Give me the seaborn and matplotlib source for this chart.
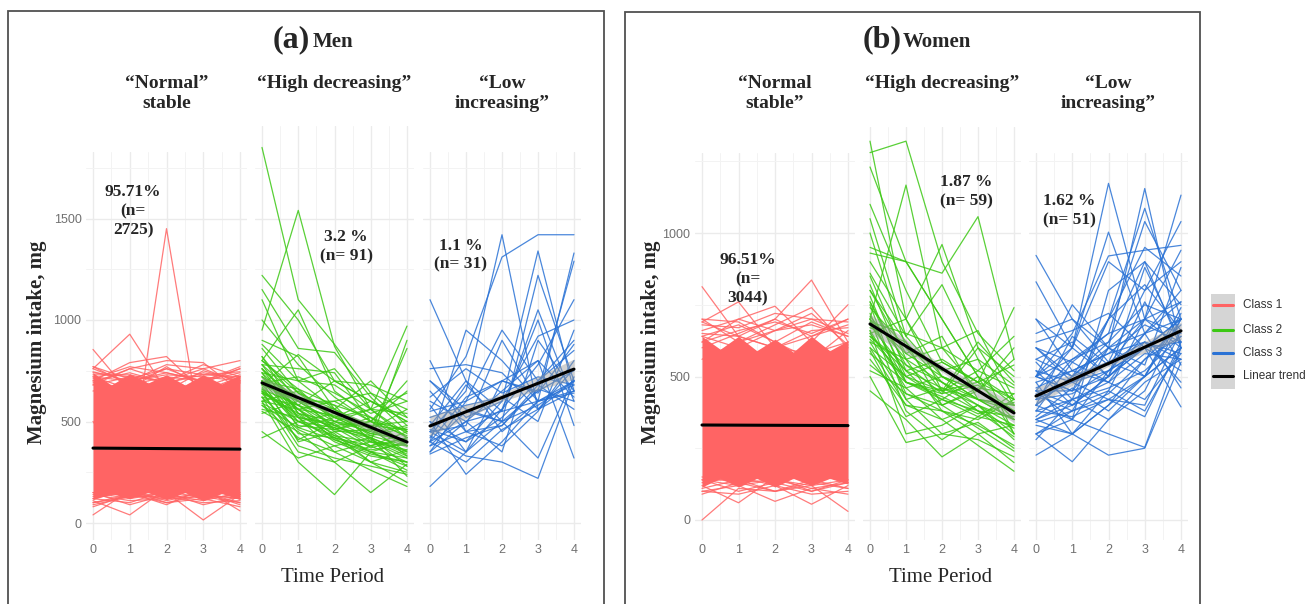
import numpy as np
import pandas as pd
import matplotlib
matplotlib.use("Agg")
import matplotlib.pyplot as plt
import seaborn as sns
from matplotlib.patches import Rectangle
from matplotlib.lines import Line2D

# ---------------- data ----------------
TIME = [0, 1, 2, 3, 4]
BAND_T = [0, 0.5, 1, 1.5, 2, 2.5, 3, 3.5, 4]
CLASS_TITLES_MEN = ["\u201cNormal\u201d\nstable", "\u201cHigh decreasing\u201d", "\u201cLow\nincreasing\u201d"]
CLASS_TITLES_WOMEN = ["\u201cNormal\nstable\u201d", "\u201cHigh decreasing\u201d", "\u201cLow\nincreasing\u201d"]
MEN_LABELS = ["95.71%\n(n=\n2725)", "3.2 %\n(n= 91)", "1.1 %\n(n= 31)"]
WOMEN_LABELS = ["96.51%\n(n=\n3044)", "1.87 %\n(n= 59)", "1.62 %\n(n= 51)"]
LEGEND_LABELS = ["Class 1", "Class 2", "Class 3", "Linear trend"]

# dense Class 1 band (envelope of the thousands of trajectories)
MEN_C1_UPPER = [740, 680, 735, 690, 730, 680, 730, 685, 730]
MEN_C1_LOWER = [115, 145, 120, 150, 115, 150, 110, 145, 115]
WOM_C1_UPPER = [640, 595, 640, 590, 630, 585, 640, 590, 625]
WOM_C1_LOWER = [115, 145, 115, 145, 115, 145, 120, 145, 125]

MEN_C1 = [
    [855, 640, 700, 650, 700], [760, 930, 650, 640, 690], [500, 250, 1450, 380, 500],
    [700, 790, 820, 650, 720], [680, 760, 800, 790, 650], [720, 700, 780, 760, 800],
    [740, 720, 700, 780, 720], [650, 700, 740, 700, 760], [770, 680, 720, 700, 740],
    [745, 700, 730, 720, 700], [700, 740, 690, 730, 745], [760, 690, 760, 690, 760],
    [690, 760, 700, 760, 690], [730, 730, 690, 740, 710], [710, 770, 740, 700, 770],
    [770, 710, 760, 730, 720], [720, 660, 770, 670, 730], [680, 720, 650, 750, 700],
    [40, 160, 110, 150, 90], [110, 40, 170, 140, 120], [130, 150, 90, 170, 60],
    [150, 120, 150, 15, 140], [90, 130, 130, 100, 110], [120, 100, 160, 120, 80],
    [100, 140, 120, 130, 100], [150, 90, 140, 110, 150], [120, 160, 100, 140, 120],
    [100, 130, 150, 90, 130], [140, 110, 120, 150, 100], [80, 140, 100, 120, 140],
]
MEN_C2 = [
    [1850, 1100, 880, 640, 480], [950, 1540, 870, 560, 420], [1220, 1000, 700, 600, 500],
    [800, 1050, 650, 520, 380], [1150, 860, 840, 620, 450], [1000, 780, 620, 500, 430],
    [1100, 700, 760, 560, 540], [700, 600, 500, 560, 970], [650, 520, 480, 400, 900],
    [720, 560, 530, 450, 860], [680, 830, 700, 680, 600], [900, 820, 560, 700, 520],
    [780, 760, 740, 500, 650], [600, 300, 140, 350, 320], [550, 450, 300, 150, 290],
    [420, 500, 430, 350, 280], [450, 320, 380, 300, 200], [580, 420, 350, 260, 180],
    [650, 380, 320, 280, 240], [700, 500, 420, 380, 300], [760, 600, 480, 420, 350],
    [820, 540, 500, 450, 400], [640, 560, 600, 500, 460], [600, 650, 520, 480, 500],
    [720, 620, 580, 400, 380], [680, 480, 460, 520, 420], [740, 700, 560, 460, 560],
    [560, 520, 400, 330, 300], [700, 400, 450, 350, 260], [620, 460, 380, 420, 340],
    [780, 540, 420, 300, 360], [860, 640, 520, 560, 440], [660, 580, 700, 600, 500],
    [740, 470, 520, 440, 480], [590, 500, 470, 370, 420], [690, 720, 640, 540, 600],
    [760, 520, 350, 400, 320], [640, 410, 500, 470, 380], [820, 600, 600, 640, 560],
    [700, 560, 460, 500, 700], [540, 600, 560, 410, 330], [880, 700, 680, 560, 640],
    [620, 350, 300, 380, 450], [800, 660, 500, 420, 230], [670, 440, 420, 360, 390],
    [640, 540, 470, 430, 380], [700, 620, 520, 440, 410], [760, 580, 450, 460, 350],
    [600, 560, 430, 400, 360], [680, 600, 550, 470, 330], [720, 520, 490, 380, 420],
    [800, 640, 560, 480, 460], [660, 500, 540, 430, 470], [740, 560, 410, 340, 300],
    [580, 470, 410, 350, 400], [700, 660, 580, 520, 450], [620, 580, 480, 500, 380],
    [780, 620, 460, 420, 280], [650, 530, 440, 300, 250], [690, 580, 520, 600, 520],
]
MEN_C3 = [
    [560, 820, 1310, 1420, 1420], [450, 650, 1420, 560, 700], [500, 400, 600, 1340, 650],
    [380, 550, 500, 1220, 700], [400, 500, 550, 600, 1330], [450, 350, 700, 650, 1290],
    [1100, 700, 450, 600, 700], [180, 350, 500, 580, 700], [400, 950, 800, 600, 650],
    [430, 330, 300, 220, 700], [600, 500, 650, 800, 320], [500, 240, 400, 600, 680],
    [760, 780, 740, 560, 650], [350, 600, 950, 700, 900], [480, 700, 550, 1050, 600],
    [700, 520, 600, 920, 1000], [380, 450, 560, 780, 1100], [420, 680, 500, 650, 750],
    [800, 450, 380, 550, 800], [550, 600, 700, 800, 620], [460, 400, 520, 700, 850],
    [350, 500, 350, 900, 650], [620, 760, 640, 720, 680], [400, 300, 460, 560, 760],
    [520, 580, 620, 500, 950], [340, 420, 480, 680, 560], [700, 560, 500, 320, 720],
    [450, 480, 900, 600, 640], [580, 350, 560, 1000, 480], [400, 620, 700, 640, 880],
    [650, 450, 480, 660, 600],
]
WOM_C1 = [
    [813, 640, 600, 580, 620], [690, 760, 600, 640, 700], [620, 700, 745, 620, 750],
    [600, 650, 700, 836, 620], [560, 620, 680, 740, 600], [700, 690, 620, 560, 660],
    [680, 670, 720, 700, 690], [640, 600, 660, 680, 640], [640, 680, 620, 690, 640],
    [690, 640, 700, 640, 680], [660, 700, 660, 700, 650], [620, 660, 690, 650, 700],
    [700, 620, 660, 720, 610], [650, 640, 600, 660, 670],
    [0, 110, 100, 120, 140], [120, 60, 150, 100, 130], [140, 120, 65, 110, 130],
    [130, 150, 120, 55, 120], [150, 130, 140, 120, 30], [90, 130, 100, 140, 110],
    [100, 90, 120, 90, 100], [110, 140, 100, 130, 110], [140, 100, 130, 100, 140],
    [100, 120, 140, 110, 90],
]
WOM_C2 = [
    [1280, 1320, 900, 650, 520], [1320, 700, 500, 420, 400], [700, 1167, 600, 450, 380],
    [950, 900, 860, 1057, 560], [650, 700, 960, 600, 400], [1230, 900, 700, 500, 420],
    [1100, 800, 550, 480, 350], [930, 900, 700, 500, 400], [1050, 640, 820, 560, 300],
    [1000, 600, 450, 620, 480], [600, 500, 450, 480, 740], [650, 480, 450, 520, 640],
    [500, 270, 300, 280, 220], [450, 350, 220, 300, 200], [600, 400, 350, 260, 170],
    [850, 560, 600, 660, 420], [800, 620, 480, 400, 330], [760, 500, 420, 380, 290],
    [720, 440, 380, 330, 260], [700, 580, 500, 450, 380], [680, 520, 400, 460, 440],
    [660, 460, 350, 400, 300], [640, 540, 480, 380, 360], [620, 420, 300, 340, 250],
    [580, 480, 430, 370, 410], [560, 400, 380, 300, 330], [740, 600, 520, 560, 470],
    [780, 480, 440, 600, 500], [820, 520, 560, 480, 420], [690, 650, 600, 520, 460],
    [900, 700, 450, 380, 320], [520, 460, 500, 420, 350], [660, 300, 330, 400, 280],
    [710, 560, 380, 350, 420], [750, 420, 460, 420, 380], [630, 500, 550, 480, 540],
    [590, 360, 420, 500, 300], [800, 580, 640, 420, 350], [670, 620, 400, 320, 240],
    [700, 380, 280, 360, 440], [540, 440, 400, 450, 600], [860, 640, 500, 450, 560],
    [640, 520, 460, 400, 350], [700, 480, 420, 360, 330], [620, 560, 480, 420, 400],
    [760, 540, 440, 470, 380],
]
WOM_C3 = [
    [500, 600, 1173, 700, 650], [400, 500, 600, 1155, 600], [450, 450, 700, 1086, 700],
    [380, 550, 650, 1040, 800], [500, 450, 600, 700, 1132], [400, 500, 550, 800, 1040],
    [500, 650, 920, 940, 957], [450, 600, 1003, 650, 700], [922, 700, 550, 500, 600],
    [830, 600, 500, 600, 700], [500, 750, 600, 650, 800], [226, 300, 400, 500, 600],
    [300, 203, 350, 450, 700], [350, 300, 226, 250, 550], [400, 350, 300, 253, 600],
    [500, 450, 500, 600, 394], [700, 600, 900, 800, 900], [600, 500, 700, 950, 850],
    [450, 350, 800, 900, 750], [350, 400, 500, 880, 620], [650, 700, 600, 500, 700],
    [420, 480, 550, 620, 580], [380, 420, 460, 520, 640], [460, 520, 480, 580, 560],
    [520, 400, 450, 700, 600], [340, 380, 420, 400, 660], [600, 550, 480, 420, 580],
    [300, 350, 520, 600, 620], [480, 300, 400, 560, 680], [560, 620, 500, 760, 540],
    [420, 560, 650, 700, 760], [700, 520, 580, 620, 480], [360, 460, 380, 500, 720],
    [440, 380, 600, 540, 880], [520, 480, 420, 360, 620], [620, 660, 720, 600, 520],
    [280, 420, 350, 480, 560], [500, 560, 620, 900, 600], [400, 640, 540, 700, 940],
    [550, 420, 700, 820, 660], [330, 300, 450, 380, 600], [600, 480, 520, 650, 460],
    [420, 440, 520, 600, 700], [350, 420, 480, 650, 760], [480, 520, 580, 680, 620],
    [300, 380, 440, 560, 640], [560, 500, 620, 750, 700], [450, 400, 500, 620, 560],
    [380, 360, 420, 500, 740],
]

# linear trends (value at t=0 and t=4) and CI half-widths at t=0,2,4
TREND_T = [0, 4]
CI_T = [0, 2, 4]
MEN_TREND = [[369, 364], [690, 399], [478, 758]]
WOM_TREND = [[331, 329], [683, 373], [432, 659]]
MEN_CI = [[6, 3, 6], [30, 12, 30], [50, 18, 50]]
WOM_CI = [[5, 2, 5], [35, 12, 35], [30, 10, 30]]

COLORS = ["#FF6464", "#3CC814", "#2A72D5"]

# ---------------- drawing ----------------
sns.set_theme(style="white")
plt.rcParams["font.family"] = ["DejaVu Sans"]
SERIF = "Liberation Serif"
SANS = "Liberation Sans"

W, H = 1306, 604
fig = plt.figure(figsize=(W / 100, H / 100), dpi=100)


def add_ax(l, t, r, b):
    return fig.add_axes([l / W, 1 - b / H, (r - l) / W, (b - t) / H])


def to_df(lines):
    rows = [(i, t, v) for i, traj in enumerate(lines) for t, v in zip(TIME, traj)]
    return pd.DataFrame(rows, columns=["id", "t", "mg"])


def style_ax(ax, ylim, yticks, yminor, show_y):
    ax.set_xlim(-0.2, 4.2)
    ax.set_ylim(*ylim)
    ax.set_xticks(TIME)
    ax.set_xticks([0.5, 1.5, 2.5, 3.5], minor=True)
    ax.set_yticks(yticks)
    ax.set_yticks(yminor, minor=True)
    ax.set_axisbelow(True)
    ax.grid(which="major", color="#EBEBEB", lw=1.0)
    ax.grid(which="minor", color="#F3F3F3", lw=0.7)
    for s in ax.spines.values():
        s.set_visible(False)
    ax.tick_params(which="both", length=0, labelsize=9, labelcolor="#707070", pad=3)
    for lab in ax.get_xticklabels() + ax.get_yticklabels():
        lab.set_fontfamily(SANS)
    if not show_y:
        ax.set_yticklabels([])
    ax.set_xlabel("")
    ax.set_ylabel("")


def draw_facet(ax, k, lines, band_up, band_lo, trend, ci):
    col = COLORS[k]
    if band_up is not None:
        ax.fill_between(BAND_T, band_lo, band_up, color=col, lw=0, zorder=1)
    sns.lineplot(data=to_df(lines), x="t", y="mg", units="id", estimator=None,
                 color=col, lw=0.9, alpha=0.85, ax=ax, legend=False, zorder=2)
    mid = (trend[0] + trend[1]) / 2
    centers = [trend[0], mid, trend[1]]
    ax.fill_between(CI_T, [c - h for c, h in zip(centers, ci)],
                    [c + h for c, h in zip(centers, ci)],
                    color="#9A9A9A", alpha=0.45, lw=0, zorder=3)
    sns.lineplot(x=TREND_T, y=trend, color="black", lw=2.2, ax=ax, zorder=4)


def fig_text(x, y, s, **kw):
    fig.text(x / W, 1 - y / H, s, **kw)


# Panel geometry (pixels)
men_geo = [(85.65, 152, 247.35, 540), (254.75, 126, 414.25, 540), (422.8, 152, 581.2, 540)]
wom_geo = [(694.7, 153, 855.3, 540), (862.8, 127, 1021.2, 540), (1028.75, 153, 1188.25, 540)]
men_scale = (523, 0.203)
wom_scale = (520, 0.287)
MEN_LABEL_POS = [(1.09, 1535), (2.32, 1360), (0.86, 1320)]
WOM_LABEL_POS = [(1.26, 840), (2.67, 1143), (0.91, 1077)]

panels = [
    (men_geo, men_scale, [MEN_C1, MEN_C2, MEN_C3], (MEN_C1_UPPER, MEN_C1_LOWER), MEN_TREND, MEN_CI,
     [0, 500, 1000, 1500], [250, 750, 1250, 1750], CLASS_TITLES_MEN, MEN_LABELS, MEN_LABEL_POS),
    (wom_geo, wom_scale, [WOM_C1, WOM_C2, WOM_C3], (WOM_C1_UPPER, WOM_C1_LOWER), WOM_TREND, WOM_CI,
     [0, 500, 1000], [250, 750, 1250], CLASS_TITLES_WOMEN, WOMEN_LABELS, WOM_LABEL_POS),
]

for geo, (y0px, pxmg), data, band, trends, cis, yt, ym, titles, labels, lpos in panels:
    for k in range(3):
        l, t, r, b = geo[k]
        ax = add_ax(l, t, r, b)
        ylim = ((y0px - b) / pxmg, (y0px - t) / pxmg)
        up, lo = (band if k == 0 else (None, None))
        draw_facet(ax, k, data[k], up, lo, trends[k], cis[k])
        style_ax(ax, ylim, yt, ym, show_y=(k == 0))
        ax.text(lpos[k][0], lpos[k][1], labels[k], ha="center", va="center",
                multialignment="center", fontsize=12.5, fontweight="bold",
                family=SERIF, linespacing=1.25, zorder=6)
        fig_text((l + r) / 2, 75, titles[k], ha="center", va="top", fontsize=14,
                 fontweight="bold", family=SERIF, linespacing=1.22)

# Panel titles
fig_text(310, 47, "(a)", ha="right", va="baseline", fontsize=23, fontweight="bold", family=SERIF)
fig_text(313, 47, "Men", ha="left", va="baseline", fontsize=15, fontweight="bold", family=SERIF)
fig_text(902, 47, "(b)", ha="right", va="baseline", fontsize=23, fontweight="bold", family=SERIF)
fig_text(903, 47, "Women", ha="left", va="baseline", fontsize=15, fontweight="bold", family=SERIF)

# Axis titles
fig_text(333, 578, "Time Period", ha="center", va="center", fontsize=15, family=SERIF)
fig_text(941, 578, "Time Period", ha="center", va="center", fontsize=15, family=SERIF)
fig_text(37, 342, "Magnesium intake, mg", ha="center", va="center", rotation=90,
         fontsize=15, fontweight="bold", family=SERIF)
fig_text(651, 342, "Magnesium intake, mg", ha="center", va="center", rotation=90,
         fontsize=15, fontweight="bold", family=SERIF)

# Panel boxes
for (x0, y0, x1) in [(8, 11, 604), (625, 12, 1200)]:
    fig.patches.append(Rectangle((x0 / W, -0.1), (x1 - x0) / W, 1 - y0 / H + 0.1,
                                 transform=fig.transFigure, fill=False,
                                 ec="#505050", lw=1.3, clip_on=False))

# Legend
fig.patches.append(Rectangle((1211 / W, 1 - 389 / H), 24 / W, 95 / H,
                             transform=fig.transFigure, color="#D5D5D5", lw=0))
leg_y = [305, 330, 353, 376]
leg_cols = COLORS + ["black"]
for y, c, lab in zip(leg_y, leg_cols, LEGEND_LABELS):
    fig.lines.append(Line2D([1213 / W, 1233 / W], [1 - y / H] * 2, color=c, lw=2.2,
                            transform=fig.transFigure))
    fig_text(1243, y, lab, ha="left", va="center", fontsize=8.5, color="#333333", family=SANS)

fig.savefig("out.png", dpi=100, facecolor="white")
